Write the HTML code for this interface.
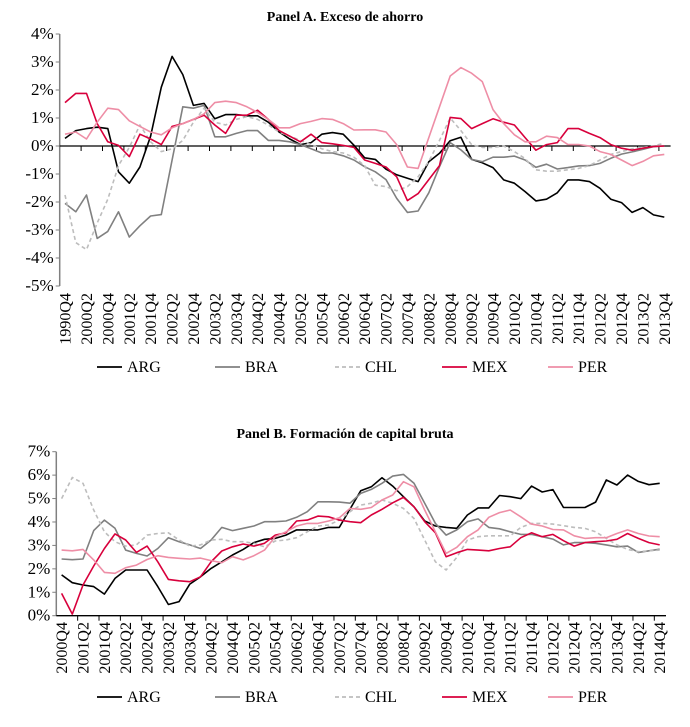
<!DOCTYPE html>
<html><head><meta charset="utf-8"><style>
body{margin:0;background:#fff;}
svg{display:block;font-family:"Liberation Serif",serif;}
</style></head><body>
<svg id="chart" width="690" height="727" viewBox="0 0 690 727"></svg>
<script>
const seriesNames = ["ARG","BRA","CHL","MEX","PER"];
const ticksA = ["4%","3%","2%","1%","0%","-1%","-2%","-3%","-4%","-5%"];
const tickValsA = [4,3,2,1,0,-1,-2,-3,-4,-5];
const ticksB = ["7%","6%","5%","4%","3%","2%","1%","0%"];
const tickValsB = [7,6,5,4,3,2,1,0];
const catsA = (function(){const a=["1999Q4"];for(let y=2000;y<=2013;y++)for(let q=1;q<=4;q++)a.push(y+"Q"+q);return a;})();
const catsB = (function(){const a=["2000Q4"];for(let y=2001;y<=2014;y++)for(let q=1;q<=4;q++)a.push(y+"Q"+q);return a;})();
const labelOverrideA = {"1999Q4":"1990Q4"};

const A_ARG = [0.27,0.55,0.62,0.67,0.62,-0.92,-1.33,-0.75,0.35,2.1,3.2,2.55,1.45,1.52,0.97,1.12,1.12,1.08,1.08,0.85,0.5,0.25,0.05,0.12,0.42,0.48,0.42,0.03,-0.42,-0.48,-0.83,-1.03,-1.15,-1.27,-0.56,-0.26,0.19,0.31,-0.48,-0.6,-0.77,-1.21,-1.33,-1.63,-1.96,-1.9,-1.67,-1.21,-1.21,-1.27,-1.51,-1.9,-2.02,-2.37,-2.2,-2.46,-2.54];
const A_BRA = [-2.05,-2.35,-1.75,-3.3,-3.05,-2.35,-3.25,-2.85,-2.5,-2.45,-0.5,1.4,1.35,1.45,0.33,0.33,0.45,0.55,0.55,0.2,0.2,0.15,0.05,-0.1,-0.25,-0.25,-0.35,-0.5,-0.74,-0.92,-1.2,-1.87,-2.37,-2.32,-1.67,-0.74,0.12,-0.14,-0.48,-0.56,-0.4,-0.4,-0.36,-0.5,-0.76,-0.65,-0.82,-0.77,-0.71,-0.7,-0.62,-0.44,-0.29,-0.21,-0.12,-0.02,0];
const A_CHL = [-1.75,-3.45,-3.7,-2.75,-1.9,-0.7,-0.05,0.75,0.15,-0.2,-0.1,0.2,0.85,1.35,0.85,0.75,0.95,1.05,0.95,0.75,0.5,0.35,0.2,0.05,-0.1,-0.2,-0.25,-0.4,-0.7,-1.4,-1.45,-1.6,-1.45,-1.1,-0.55,0.2,1.0,0.55,0.05,-0.05,-0.05,0.0,-0.2,-0.45,-0.85,-0.9,-0.9,-0.85,-0.8,-0.7,-0.5,-0.3,-0.2,-0.1,-0.05,0.0,0.1];
const A_MEX = [1.55,1.88,1.88,0.8,0.15,0.02,-0.38,0.42,0.25,0.05,0.7,0.8,0.95,1.1,0.75,0.45,1.1,1.1,1.28,0.95,0.55,0.35,0.15,0.42,0.12,0.08,0.02,-0.05,-0.5,-0.62,-0.75,-1.1,-1.95,-1.7,-1.2,-0.7,1.02,0.98,0.62,0.8,0.97,0.85,0.75,0.3,-0.15,0.05,0.12,0.62,0.62,0.45,0.3,0.05,-0.08,-0.15,-0.08,-0.02,0.0];
const A_PER = [0.42,0.5,0.25,0.85,1.35,1.3,0.9,0.7,0.5,0.4,0.65,0.8,0.95,1.15,1.55,1.6,1.55,1.4,1.2,0.95,0.65,0.65,0.8,0.88,0.98,0.95,0.8,0.57,0.58,0.58,0.5,0.05,-0.75,-0.8,0.3,1.4,2.5,2.8,2.6,2.3,1.3,0.8,0.4,0.15,0.15,0.35,0.3,0.05,0.05,0.0,-0.2,-0.3,-0.5,-0.7,-0.55,-0.35,-0.3];

const B_ARG = [1.74,1.41,1.31,1.24,0.92,1.59,1.95,1.95,1.95,1.24,0.48,0.6,1.35,1.66,2.02,2.3,2.59,2.83,3.12,3.26,3.3,3.44,3.66,3.66,3.66,3.77,3.77,4.55,5.33,5.5,5.89,5.53,5.08,4.65,4.04,3.83,3.77,3.73,4.3,4.6,4.6,5.13,5.08,5.0,5.53,5.28,5.38,4.62,4.62,4.62,4.85,5.79,5.58,6.0,5.73,5.59,5.65];
const B_BRA = [2.42,2.39,2.42,3.63,4.08,3.73,2.8,2.66,2.55,2.87,3.33,3.16,3.02,2.87,3.23,3.77,3.63,3.73,3.83,4.01,4.01,4.04,4.2,4.44,4.86,4.86,4.85,4.8,5.22,5.39,5.65,5.96,6.03,5.65,4.8,3.94,3.44,3.66,4.01,4.13,3.77,3.71,3.58,3.47,3.47,3.37,3.27,3.02,3.12,3.12,3.09,3.02,2.94,2.97,2.7,2.77,2.84];
const B_CHL = [5.0,5.9,5.65,4.51,3.58,3.16,2.97,3.02,3.44,3.51,3.54,3.23,2.97,3.02,3.23,3.26,3.16,3.16,3.09,2.94,3.19,3.23,3.33,3.58,3.83,3.87,4.08,4.44,4.72,4.8,4.94,4.8,4.58,4.15,3.23,2.3,1.95,2.49,3.23,3.37,3.41,3.41,3.41,3.77,3.94,3.94,3.91,3.84,3.77,3.73,3.58,3.3,3.02,2.83,2.73,2.77,2.8];
const B_MEX = [0.95,0.07,1.31,2.12,2.87,3.49,3.23,2.7,2.97,2.3,1.55,1.49,1.45,1.66,2.3,2.76,2.94,3.06,2.97,3.09,3.44,3.54,4.04,4.08,4.25,4.22,4.08,4.01,3.97,4.3,4.54,4.82,5.05,4.65,4.01,3.54,2.52,2.69,2.83,2.8,2.77,2.87,2.94,3.33,3.54,3.37,3.47,3.2,2.97,3.12,3.16,3.19,3.26,3.51,3.3,3.12,3.02];
const B_PER = [2.8,2.77,2.83,2.38,1.85,1.81,2.05,2.16,2.4,2.56,2.49,2.45,2.42,2.46,2.35,2.26,2.52,2.38,2.56,2.8,3.37,3.58,3.83,3.94,3.94,4.04,4.18,4.58,4.54,4.62,4.94,5.15,5.72,5.5,4.51,3.58,2.66,2.92,3.37,3.66,4.2,4.4,4.51,4.22,3.91,3.83,3.68,3.66,3.41,3.3,3.33,3.33,3.51,3.66,3.51,3.4,3.37];

const styles = {
  ARG:{stroke:"#000000",dash:null,w:1.6},
  BRA:{stroke:"#808080",dash:null,w:1.6},
  CHL:{stroke:"#bdbdbd",dash:"4,3",w:1.6},
  MEX:{stroke:"#d8003c",dash:null,w:1.6},
  PER:{stroke:"#ee8ea6",dash:null,w:1.6}
};

const svg = document.getElementById('chart');
const NS = "http://www.w3.org/2000/svg";
function mk(tag, attrs, parent){const e=document.createElementNS(NS,tag);for(const k in attrs)e.setAttribute(k,attrs[k]);(parent||svg).appendChild(e);return e;}

function panel(cfg){
  const g = mk('g',{});
  
  
  const n = cfg.cats.length;
  const band = (cfg.x1-cfg.x0)/n;
  const xs = i => cfg.x0 + (i+0.5)*band;
  const ys = v => cfg.yZero - v*cfg.ppu;
  const t = mk('text',{x:345,y:cfg.titleY,'text-anchor':'middle','font-size':'14','font-weight':'bold'},g);
  t.textContent = cfg.title;
  
  
  const ya = mk('line',{x1:cfg.x0,x2:cfg.x0,y1:ys(cfg.tickVals[0]),y2:ys(cfg.tickVals[cfg.tickVals.length-1]),stroke:'#808080','stroke-width':1.5},g);
  
  
  cfg.tickVals.forEach((v,k)=>{
    mk('line',{x1:cfg.x0-4,x2:cfg.x0,y1:ys(v),y2:ys(v),stroke:'#808080','stroke-width':1},g);
    const tl = mk('text',{x:cfg.x0-6,y:ys(v)+5,'text-anchor':'end','font-size':'17'},g);
    tl.textContent = cfg.ticks[k];
    
    
  });
  const xa = mk('line',{x1:cfg.x0,x2:cfg.x1+1,y1:ys(0),y2:ys(0),stroke:'#000','stroke-width':1.3},g);
  
  
  for(let k=2;k<=n;k+=2){
    const x = cfg.x0 + k*band;
    mk('line',{x1:x,x2:x,y1:ys(0),y2:ys(0)+5,stroke:'#000','stroke-width':1},g);
  }
  for(let i=0;i<n;i+=2){
    const lab = (cfg.override && cfg.override[cfg.cats[i]]) || cfg.cats[i];
    const x = xs(i)+5.5, y = cfg.labelTop;
    const tx = mk('text',{x:x,y:y,'text-anchor':'end','font-size':'16',transform:`rotate(-90 ${x} ${y})`},g);
    tx.textContent = lab;
    
    
  }
  cfg.series.forEach((vals,si)=>{
    const nm = seriesNames[si], st = styles[nm];
    const d = vals.map((v,i)=>(i?'L':'M')+xs(i).toFixed(1)+','+ys(v).toFixed(1)).join(' ');
    const p = mk('path',{d:d,fill:'none',stroke:st.stroke,'stroke-width':st.w,'stroke-linejoin':'round'},g);
    if(st.dash) p.setAttribute('stroke-dasharray',st.dash);
    
    
  });
  const lx = [97,215,335,442,548];
  seriesNames.forEach((nm,si)=>{
    const st = styles[nm];
    const lg = mk('g',{},g);
    
    
    const l = mk('line',{x1:lx[si],x2:lx[si]+25,y1:cfg.legendY,y2:cfg.legendY,stroke:st.stroke,'stroke-width':1.8},lg);
    if(st.dash) l.setAttribute('stroke-dasharray',st.dash);
    const tt = mk('text',{x:lx[si]+30,y:cfg.legendY+5,'font-size':'16'},lg);
    tt.textContent = nm;
  });
}

panel({key:'panel-a',title:'Panel A. Exceso de ahorro',titleY:21,cats:catsA,override:labelOverrideA,
  x0:59.7,x1:669.6,yZero:146,ppu:28,ticks:ticksA,tickVals:tickValsA,labelTop:293,legendY:367,
  series:[A_ARG,A_BRA,A_CHL,A_MEX,A_PER]});
panel({key:'panel-b',title:'Panel B. Formación de capital bruta',titleY:438,cats:catsB,
  x0:56.3,x1:665,yZero:615.7,ppu:23.43,ticks:ticksB,tickVals:tickValsB,labelTop:622,legendY:697,
  series:[B_ARG,B_BRA,B_CHL,B_MEX,B_PER]});
</script>
</body></html>
